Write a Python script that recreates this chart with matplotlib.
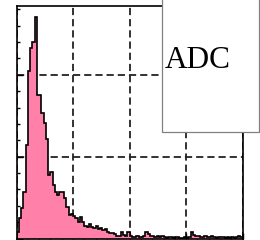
import numpy as np
import matplotlib
matplotlib.use('Agg')
import matplotlib.pyplot as plt
from matplotlib.patches import Rectangle
from matplotlib.ticker import MultipleLocator

# ADC histogram, 100 bins over 0..4000
bin_edges = np.linspace(0, 4000, 101)
counts = [
    8, 25, 37, 57, 114, 204, 233, 240, 271, 175,
    175, 153, 141, 122, 78, 81, 65, 57, 53, 57,
    57, 50, 38, 29, 30, 27, 25, 20, 26, 20,
    15, 14, 18, 14, 13, 15, 12, 13, 10, 12,
    8, 7, 7, 6, 3, 3, 8, 4, 3, 8,
    3, 2, 2, 3, 2, 2, 3, 8, 5, 3,
    3, 2, 3, 2, 3, 2, 1, 2, 2, 1,
    2, 2, 1, 1, 2, 1, 2, 8, 4, 3,
    3, 2, 2, 3, 2, 2, 3, 2, 1, 2,
    2, 2, 1, 2, 1, 2, 1, 2, 3, 2,
]
title = 'ADC'


def main():
    fig = plt.figure(figsize=(2.6, 2.4), dpi=100)
    ax = fig.add_axes([0.0635, 0.00625, 0.87, 0.96875])

    ax.stairs(counts, bin_edges, fill=True, color='#ff80a8', zorder=2)
    ax.stairs(counts, bin_edges, color='black', linewidth=1.2, zorder=3)

    ax.set_xlim(0, 4000)
    ax.set_ylim(0, 284)

    ax.xaxis.set_major_locator(MultipleLocator(1000))
    ax.xaxis.set_minor_locator(MultipleLocator(200))
    ax.yaxis.set_major_locator(MultipleLocator(100))
    ax.yaxis.set_minor_locator(MultipleLocator(20))
    ax.tick_params(which='both', direction='in', top=False, right=False,
                   labelbottom=False, labelleft=False, color='black')
    ax.tick_params(which='major', length=4, width=1.0)
    ax.tick_params(which='minor', length=2.5, width=1.0)

    ax.set_axisbelow(True)
    ax.grid(True, which='major', color='#222222', linestyle=(0, (4, 2.2)),
            linewidth=1.3, zorder=0)
    for s in ax.spines.values():
        s.set_linewidth(1.2)
        s.set_zorder(4)

    # title box
    box = Rectangle((0.622, 0.451), 0.375, 0.6, transform=fig.transFigure,
                    facecolor='white', edgecolor='#808080', linewidth=0.9,
                    zorder=10)
    fig.patches.append(box)
    fig.text(0.762, 0.748, title, family='Liberation Serif', fontsize=22.5,
             ha='center', va='center', zorder=11)

    fig.savefig('out.png', dpi=100)
    plt.close(fig)


if __name__ == '__main__':
    main()
